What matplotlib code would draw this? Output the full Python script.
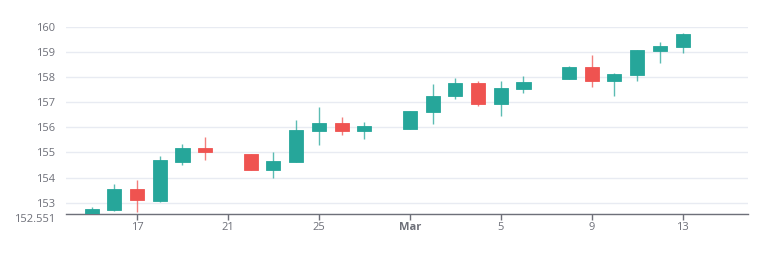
import pandas as pd
import matplotlib
matplotlib.use('Agg')
import matplotlib.pyplot as plt

# daily candles
dates = ['2023-02-15', '2023-02-16', '2023-02-17', '2023-02-18', '2023-02-19', '2023-02-20',
         '2023-02-22', '2023-02-23', '2023-02-24', '2023-02-25', '2023-02-26', '2023-02-27',
         '2023-03-01', '2023-03-02', '2023-03-03', '2023-03-04', '2023-03-05', '2023-03-06',
         '2023-03-08', '2023-03-09', '2023-03-10', '2023-03-11', '2023-03-12', '2023-03-13']
opens = [152.56, 152.73, 153.53, 153.07, 154.63, 155.19,
         154.92, 154.31, 154.61, 155.87, 156.17, 155.84,
         155.95, 156.59, 157.23, 157.76, 156.93, 157.52,
         157.91, 158.39, 157.84, 158.07, 159.05, 159.20]
closes = [152.77, 153.53, 153.09, 154.68, 155.16, 155.03,
          154.29, 154.65, 155.89, 156.17, 155.84, 156.04,
          156.63, 157.23, 157.77, 156.93, 157.55, 157.79,
          158.39, 157.85, 158.11, 159.07, 159.24, 159.72]
highs = [152.81, 153.76, 153.91, 154.87, 155.33, 155.63,
         154.93, 155.03, 156.27, 156.80, 156.40, 156.21,
         156.65, 157.73, 157.96, 157.85, 157.84, 158.05,
         158.43, 158.88, 158.17, 159.09, 159.41, 159.73]
lows = [152.551, 152.69, 152.64, 153.03, 154.51, 154.69,
        154.29, 153.97, 154.60, 155.31, 155.68, 155.52,
        155.95, 156.13, 157.12, 156.83, 156.43, 157.35,
        157.90, 157.59, 157.24, 157.84, 158.55, 158.97]

tick_dates = ['2023-02-17', '2023-02-21', '2023-02-25', '2023-03-01',
              '2023-03-05', '2023-03-09', '2023-03-13']
tick_labels = ['17', '21', '25', 'Mar', '5', '9', '13']
y_ticks = [152.551, 153, 154, 155, 156, 157, 158, 159, 160]
y_labels = ['152.551', '153', '154', '155', '156', '157', '158', '159', '160']

UP = '#26a69a'
DOWN = '#ef5350'
TXT = '#6e7079'

plt.rcParams['font.family'] = ['Open Sans', 'DejaVu Sans']

df = pd.DataFrame({'date': pd.to_datetime(dates), 'open': opens, 'close': closes,
                   'high': highs, 'low': lows})
df['color'] = [UP if c >= o else DOWN for o, c in zip(df['open'], df['close'])]

fig = plt.figure(figsize=(7.7, 2.71), dpi=100)
ax = fig.add_axes([0.0857, 0.2103, 0.8857, 0.6913])

# wicks then bodies
ax.vlines(df['date'], df['low'], df['high'], colors=df['color'], linewidth=1, alpha=0.75, zorder=2)
body_low = df[['open', 'close']].min(axis=1)
body_h = (df['close'] - df['open']).abs().clip(lower=0.04)
ax.bar(df['date'], body_h, bottom=body_low, width=0.62, color=df['color'],
       edgecolor=df['color'], linewidth=0.6, zorder=3)

ax.set_ylim(152.551, 160)
ax.set_xlim(pd.Timestamp('2023-02-13 21:00'), pd.Timestamp('2023-03-15 21:00'))

ax.set_yticks(y_ticks)
ax.set_yticklabels(y_labels)
ax.set_xticks(pd.to_datetime(tick_dates))
ax.set_xticklabels(tick_labels)
for lbl in ax.get_xticklabels():
    if lbl.get_text() == 'Mar':
        lbl.set_fontweight('bold')
# bottom label sits just under the 153 label
ax.get_yticklabels()[0].set_va('top')
ax.get_yticklabels()[0].set_y(152.551)

ax.grid(axis='y', color='#e8ebf2', linewidth=1, zorder=0)
ax.set_axisbelow(True)
for side in ['top', 'right', 'left']:
    ax.spines[side].set_visible(False)
ax.spines['bottom'].set_color(TXT)
ax.spines['bottom'].set_linewidth(1)
ax.tick_params(axis='y', length=0, pad=8, labelcolor=TXT, labelsize=8)
ax.tick_params(axis='x', length=4, width=1, color=TXT, pad=2, labelcolor=TXT, labelsize=8)

fig.savefig('out.png', dpi=100)
